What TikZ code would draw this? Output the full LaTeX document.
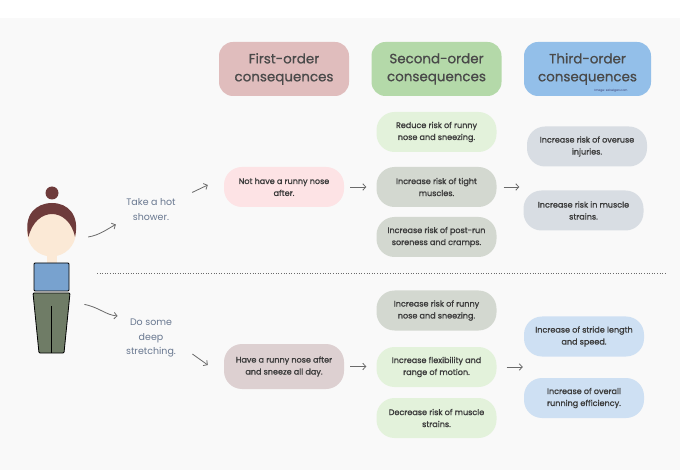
\documentclass[tikz,border=0pt]{standalone}
\usepackage{fontspec}
\setmainfont{Poppins}
\newfontfamily\medfont{Poppins}[FakeBold=1.3]
\newfontfamily\headfont{Poppins}[FakeBold=0.8]
\usepackage{xcolor}
\usetikzlibrary{arrows.meta}

\definecolor{bgcol}{HTML}{F9F9F9}
\definecolor{headtext}{HTML}{4A4A4A}
\definecolor{boxtext}{HTML}{3C3C3C}
\definecolor{acttext}{HTML}{697890}
\definecolor{arrcol}{HTML}{6A6A6A}
\definecolor{firsthead}{HTML}{E0BDBD}
\definecolor{secondhead}{HTML}{B4D9A9}
\definecolor{thirdhead}{HTML}{93BFE9}
\definecolor{pinkbox}{HTML}{FDE3E5}
\definecolor{mauvebox}{HTML}{DDD0D1}
\definecolor{greenbox}{HTML}{E3F2DB}
\definecolor{sagebox}{HTML}{D3D8D0}
\definecolor{greybox}{HTML}{D8DDE3}
\definecolor{bluebox}{HTML}{CEE0F3}
\definecolor{skin}{HTML}{FBE9D6}
\definecolor{hair}{HTML}{6E3B3B}
\definecolor{shirt}{HTML}{78A2CF}
\definecolor{pants}{HTML}{6F7C66}

\begin{document}
\begin{tikzpicture}[x=1bp,y=-1bp,
	order/.style={rounded corners=14bp, minimum width=130bp, minimum height=54bp, align=center, text=headtext, font=\headfont\fontsize{13.5}{18}\selectfont},
	cons/.style={rounded corners=18bp, minimum width=120bp, minimum height=40bp, align=center, text=boxtext, font=\medfont\fontsize{8.1}{12}\selectfont},
	act/.style={align=center, text=acttext, font=\fontsize{9.5}{15}\selectfont},
	arr/.style={draw=arrcol, line width=0.8bp, -{Straight Barb[length=3bp,width=6.5bp]}}]

			\useasboundingbox (0,0) rectangle (680,470);
			\fill[white] (0,0) rectangle (680,18);
			\fill[bgcol] (0,18) rectangle (680,470);

			\node[order, fill=firsthead] (first) at (284,69) {First-order\\consequences};
			\node[order, fill=secondhead] (second) at (436.5,69) {Second-order\\consequences};
			\node[order, fill=thirdhead, minimum width=127bp] (third) at (587.5,69) {Third-order\\consequences};
			\node[text=headtext!80!blue, font=\fontsize{3}{3}\selectfont] (credit) at (611,91) {Image: sabelgan.com};

			\fill[hair] (52,193) circle[radius=6.5];
			\fill[skin] (47,250) rectangle (57,266);
			\node[circle, fill=skin, minimum size=49bp, inner sep=0] (face) at (51.5,232) {};
			\fill[hair] (28.5,237) .. controls (23,215) and (36,203) .. (52,203) .. controls (68,203) and (80,215) .. (75,237) .. controls (72,222) and (62,214) .. (52,214) .. controls (42,214) and (32,222) .. (28.5,237) -- cycle;
			\node[draw=black, line width=0.8bp, fill=shirt, minimum width=35bp, minimum height=28bp, inner sep=0, rounded corners=1bp] (shirt) at (51.5,277) {};
			\draw[line width=0.8bp, fill=pants, rounded corners=1bp] (33,293) -- (70,293) -- (64,353) -- (39,353) -- cycle;
			\draw[line width=0.8bp] (51,306) -- (51,353);

			\node[act] (shower) at (151,210) {Take a hot\\shower.};
			\node[act] (stretch) at (151,338) {Do some\\deep\\stretching.};

			\node[cons, fill=pinkbox] (nonose) at (284,187) {Not have a runny nose\\after.};
			\node[cons, fill=mauvebox, minimum height=45bp] (sneeze) at (284,366.5) {Have a runny nose after\\and sneeze all day.};

			\node[cons, fill=greenbox] (reduce) at (436.5,132) {Reduce risk of runny\\nose and sneezing.};
			\node[cons, fill=sagebox] (tight) at (436.5,187) {Increase risk of tight\\muscles.};
			\node[cons, fill=sagebox] (sore) at (436.5,237) {Increase risk of post-run\\soreness and cramps.};
			\node[cons, fill=sagebox] (runny) at (436.5,310.5) {Increase risk of runny\\nose and sneezing.};
			\node[cons, fill=greenbox] (flex) at (436.5,367) {Increase flexibility and\\range of motion.};
			\node[cons, fill=greenbox] (decrease) at (436.5,418) {Decrease risk of muscle\\strains.};

			\node[cons, fill=greybox] (overuse) at (587,146.5) {Increase risk of overuse\\injuries.};
			\node[cons, fill=greybox] (strain) at (583.5,210.5) {Increase risk in muscle\\strains.};
			\node[cons, fill=bluebox] (stride) at (584,336.5) {Increase of stride length\\and speed.};
			\node[cons, fill=bluebox] (overall) at (584,398) {Increase of overall\\running efficiency.};

			\draw[arrcol, line width=0.6bp, dotted] (97,273) -- (665,273);

			\draw[arr] ([shift={(12,5)}]face.east) .. controls +(12,-2) and +(-8,4) .. ([xshift=-7]shower.south west);
			\draw[arr] ([shift={(13,-3)}]shower.north east) -- ([shift={(-16,-2)}]nonose.west);
			\draw[arr] ([shift={(15,13)}]shirt.south east) .. controls +(15,3) and +(-12,-1) .. ([shift={(-5,1)}]stretch.north west);
			\draw[arr] ([shift={(13,-7)}]stretch.south east) -- ([shift={(-16,-1.5)}]sneeze.west);

			\draw[arr, shorten <=6bp, shorten >=10bp] (nonose.east) -- (tight.west);
			\draw[arr, shorten <=7bp, shorten >=4bp] (tight.east) -- (tight.east -| strain.west);
			\draw[arr, shorten <=6bp, shorten >=10bp] (sneeze.east) -- (sneeze.east -| flex.west);
			\draw[arr, shorten <=10bp, shorten >=1bp] (flex.east) -- (flex.east -| stride.west);
			\end{tikzpicture}
\end{document}
